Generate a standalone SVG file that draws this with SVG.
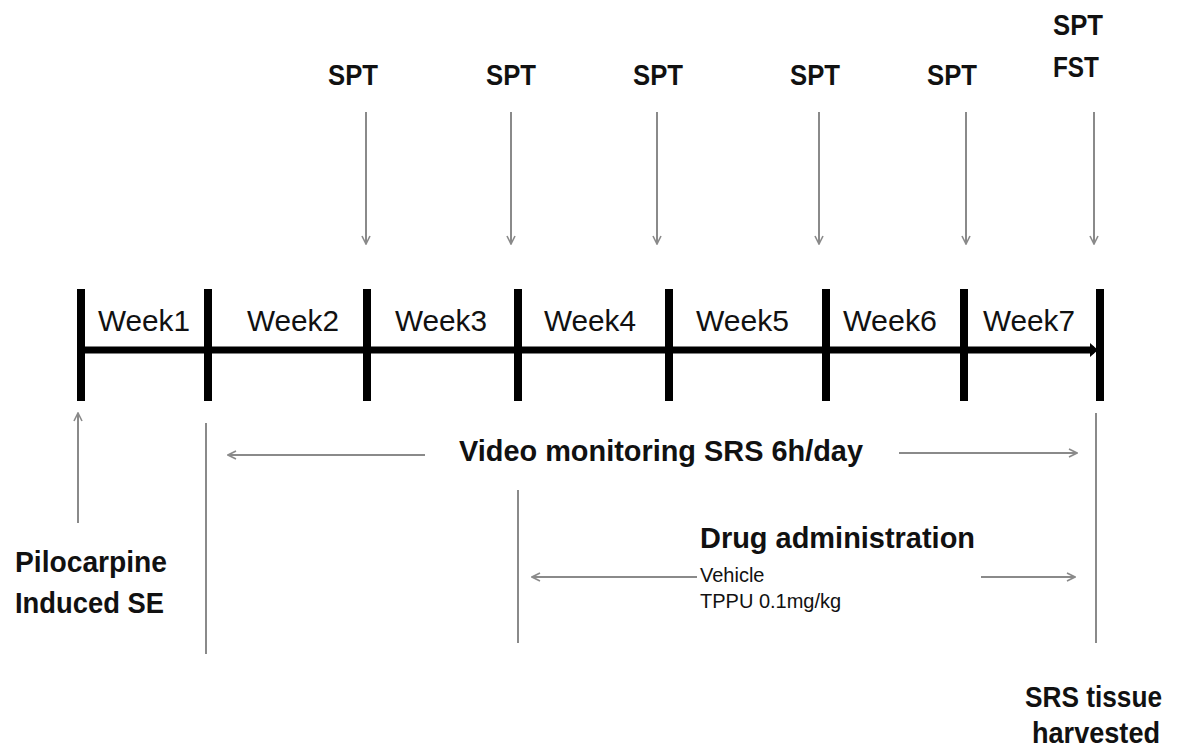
<svg xmlns="http://www.w3.org/2000/svg" width="1181" height="756" viewBox="0 0 1181 756">
<style>
.bg{fill:#ffffff}
.t{font-family:"Liberation Sans",Arial,sans-serif;fill:#111111}
.wk{font-size:30px}
.spt{font-size:30px;font-weight:bold}
.lbl{font-size:29px;font-weight:bold}
.sm{font-size:20px}
.tick{stroke:#000000;stroke-width:8}
.axis{stroke:#000000;stroke-width:7}
.con{stroke:#8a8a8a;stroke-width:2;fill:none}
</style>
<defs>
<marker id="ah" viewBox="0 0 10 10" refX="9" refY="5" markerWidth="10" markerHeight="12" markerUnits="userSpaceOnUse" orient="auto">
<path d="M1,1 L9,5 L1,9" fill="none" stroke="#8a8a8a" stroke-width="1.6"/>
</marker>
</defs>
<rect class="bg" x="0" y="0" width="1181" height="756"/>

<g id="timeline">
<line class="axis" x1="84" y1="350" x2="1094" y2="350"/>
<polygon points="1090,343 1098,350 1090,357" fill="#000"/>
<line class="tick" x1="81" y1="289" x2="81" y2="401"/>
<line class="tick" x1="208" y1="289" x2="208" y2="401"/>
<line class="tick" x1="367" y1="289" x2="367" y2="401"/>
<line class="tick" x1="518" y1="289" x2="518" y2="401"/>
<line class="tick" x1="669" y1="289" x2="669" y2="401"/>
<line class="tick" x1="826" y1="289" x2="826" y2="401"/>
<line class="tick" x1="964" y1="289" x2="964" y2="401"/>
<line class="tick" x1="1100" y1="289" x2="1100" y2="401"/>
</g>

<g id="weeks">
<text class="t wk" x="98" y="331" textLength="92" lengthAdjust="spacingAndGlyphs">Week1</text>
<text class="t wk" x="247" y="331" textLength="92" lengthAdjust="spacingAndGlyphs">Week2</text>
<text class="t wk" x="395" y="331" textLength="92" lengthAdjust="spacingAndGlyphs">Week3</text>
<text class="t wk" x="544" y="331" textLength="92" lengthAdjust="spacingAndGlyphs">Week4</text>
<text class="t wk" x="696" y="331" textLength="93" lengthAdjust="spacingAndGlyphs">Week5</text>
<text class="t wk" x="843" y="331" textLength="94" lengthAdjust="spacingAndGlyphs">Week6</text>
<text class="t wk" x="983" y="331" textLength="92" lengthAdjust="spacingAndGlyphs">Week7</text>
</g>

<g id="tests">
<text class="t spt" x="328" y="85" textLength="50" lengthAdjust="spacingAndGlyphs">SPT</text>
<text class="t spt" x="486" y="85" textLength="50" lengthAdjust="spacingAndGlyphs">SPT</text>
<text class="t spt" x="633" y="85" textLength="50" lengthAdjust="spacingAndGlyphs">SPT</text>
<text class="t spt" x="790" y="85" textLength="50" lengthAdjust="spacingAndGlyphs">SPT</text>
<text class="t spt" x="927" y="85" textLength="50" lengthAdjust="spacingAndGlyphs">SPT</text>
<text class="t spt" x="1053" y="35" textLength="50" lengthAdjust="spacingAndGlyphs">SPT</text>
<text class="t spt" x="1053" y="77" textLength="46" lengthAdjust="spacingAndGlyphs">FST</text>
</g>

<g id="pilocarpine">
<text class="t lbl" x="15" y="572" textLength="152" lengthAdjust="spacingAndGlyphs">Pilocarpine</text>
<text class="t lbl" x="15" y="613" textLength="149" lengthAdjust="spacingAndGlyphs">Induced SE</text>
</g>

<g id="video-monitoring">
<text class="t lbl" x="459" y="461" textLength="404" lengthAdjust="spacingAndGlyphs">Video monitoring SRS 6h/day</text>
</g>

<g id="drug-administration">
<text class="t lbl" x="700" y="548" textLength="275" lengthAdjust="spacingAndGlyphs">Drug administration</text>
<text class="t sm" x="700" y="582">Vehicle</text>
<text class="t sm" x="700" y="608">TPPU 0.1mg/kg</text>
</g>

<g id="harvest">
<text class="t lbl" x="1025" y="707" textLength="137" lengthAdjust="spacingAndGlyphs">SRS tissue</text>
<text class="t lbl" x="1032" y="743" textLength="128" lengthAdjust="spacingAndGlyphs">harvested</text>
</g>

<g id="connectors">
<line class="con" x1="366" y1="112" x2="366" y2="244" marker-end="url(#ah)"/>
<line class="con" x1="511" y1="112" x2="511" y2="244" marker-end="url(#ah)"/>
<line class="con" x1="657" y1="112" x2="657" y2="244" marker-end="url(#ah)"/>
<line class="con" x1="819" y1="112" x2="819" y2="244" marker-end="url(#ah)"/>
<line class="con" x1="966" y1="112" x2="966" y2="244" marker-end="url(#ah)"/>
<line class="con" x1="1094" y1="112" x2="1094" y2="244" marker-end="url(#ah)"/>
<line class="con" x1="78" y1="523" x2="78" y2="413" marker-end="url(#ah)"/>
<line class="con" x1="206" y1="423" x2="206" y2="654"/>
<line class="con" x1="518" y1="490" x2="518" y2="643"/>
<line class="con" x1="1096" y1="413" x2="1096" y2="643"/>
<line class="con" x1="425" y1="455" x2="228" y2="455" marker-end="url(#ah)"/>
<line class="con" x1="899" y1="453" x2="1077" y2="453" marker-end="url(#ah)"/>
<line class="con" x1="697" y1="577" x2="532" y2="577" marker-end="url(#ah)"/>
<line class="con" x1="981" y1="577" x2="1075" y2="577" marker-end="url(#ah)"/>
</g>
</svg>
